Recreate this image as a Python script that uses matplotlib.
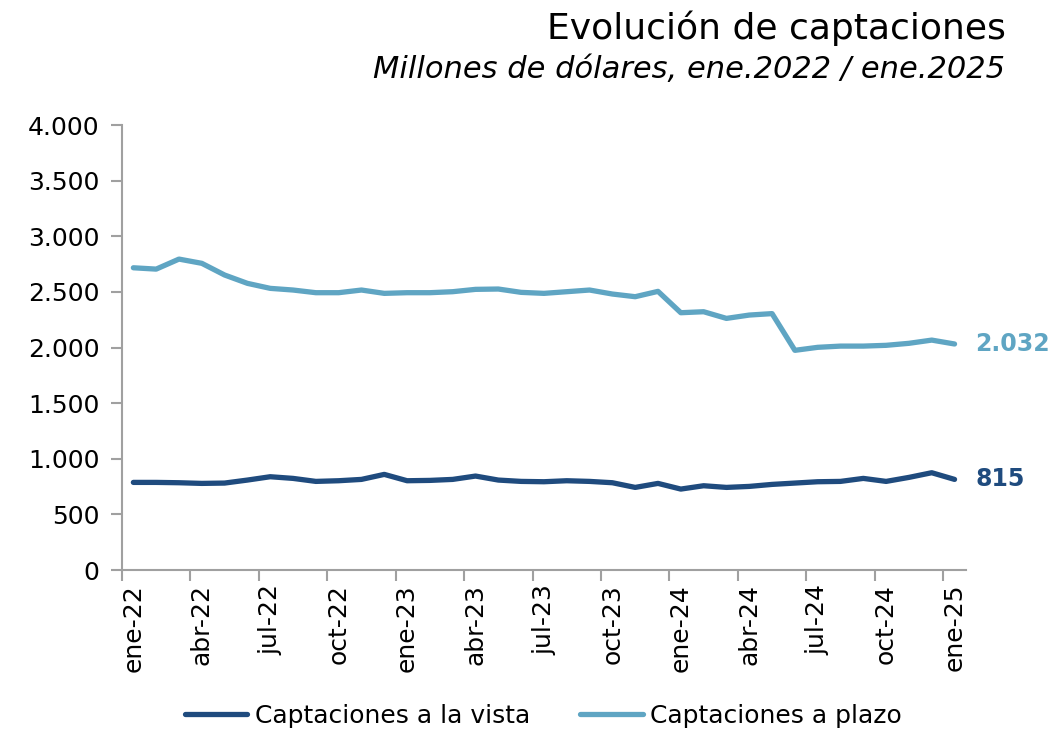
import numpy as np
import matplotlib.pyplot as plt
from matplotlib.ticker import FuncFormatter

# --- Datos (millones de dólares, mensual ene.2022 - ene.2025) ---
meses = ['ene-22', 'feb-22', 'mar-22', 'abr-22', 'may-22', 'jun-22', 'jul-22', 'ago-22', 'sep-22',
         'oct-22', 'nov-22', 'dic-22', 'ene-23', 'feb-23', 'mar-23', 'abr-23', 'may-23', 'jun-23',
         'jul-23', 'ago-23', 'sep-23', 'oct-23', 'nov-23', 'dic-23', 'ene-24', 'feb-24', 'mar-24',
         'abr-24', 'may-24', 'jun-24', 'jul-24', 'ago-24', 'sep-24', 'oct-24', 'nov-24', 'dic-24',
         'ene-25']
vista = [788, 788, 785, 779, 782, 809, 839, 824, 797, 803, 815, 860, 803, 806, 815, 845, 809, 797,
         794, 803, 797, 785, 743, 779, 728, 758, 743, 752, 770, 782, 794, 797, 824, 797, 833, 875,
         815]
plazo = [2717, 2705, 2795, 2757, 2652, 2577, 2532, 2517, 2493, 2493, 2517, 2487, 2493, 2493, 2502,
         2523, 2526, 2496, 2487, 2502, 2517, 2481, 2457, 2505, 2313, 2322, 2262, 2292, 2305, 1975,
         2002, 2013, 2013, 2020, 2038, 2067, 2032]

c_vista = '#1f4b7e'
c_plazo = '#5fa5c3'
gris = '#a0a0a0'

x = np.arange(len(meses))

fig = plt.figure(figsize=(10.55, 7.29), dpi=100)
ax = fig.add_axes([0.1156, 0.218, 0.8, 0.6105])

ax.plot(x, vista, color=c_vista, linewidth=3.8, solid_capstyle='round', solid_joinstyle='round',
        label='Captaciones a la vista')
ax.plot(x, plazo, color=c_plazo, linewidth=3.8, solid_capstyle='round', solid_joinstyle='round',
        label='Captaciones a plazo')

# Etiquetas del último dato
fmt = lambda v, p=None: f'{int(v):,}'.replace(',', '.')
ax.annotate(fmt(plazo[-1]), (x[-1], plazo[-1]), xytext=(15, 0), textcoords='offset points',
            va='center', ha='left', fontsize=17, fontweight='bold', color=c_plazo,
            annotation_clip=False)
ax.annotate(fmt(vista[-1]), (x[-1], vista[-1]), xytext=(15, 0), textcoords='offset points',
            va='center', ha='left', fontsize=17, fontweight='bold', color=c_vista,
            annotation_clip=False)

# Ejes
ax.set_ylim(0, 4000)
ax.set_yticks(np.arange(0, 4001, 500))
ax.yaxis.set_major_formatter(FuncFormatter(fmt))
ax.set_xlim(-0.5, len(meses) - 0.5)
ax.set_xticks(np.arange(-0.5, len(meses), 3))
ax.set_xticklabels([])
ax.set_xticks(x[::3], minor=True)
ax.set_xticklabels(meses[::3], minor=True, rotation=90)
ax.tick_params(axis='x', which='minor', length=0, pad=10, labelsize=18)
ax.tick_params(axis='x', which='major', length=8, width=1.5, color=gris)
ax.tick_params(axis='y', length=8, width=1.5, color=gris, labelsize=18, pad=8)

for s in ['top', 'right']:
    ax.spines[s].set_visible(False)
for s in ['left', 'bottom']:
    ax.spines[s].set_color(gris)
    ax.spines[s].set_linewidth(1.5)

# Títulos
fig.text(0.953, 0.961, 'Evolución de captaciones', ha='right', va='center', fontsize=26)
fig.text(0.953, 0.905, 'Millones de dólares, ene.2022 / ene.2025', ha='right', va='center',
         fontsize=22, style='italic')

fig.legend(loc='center', bbox_to_anchor=(0.515, 0.018), ncol=2, frameon=False, fontsize=18,
           handlelength=2.5, columnspacing=2, handletextpad=0.3)

fig.savefig('out.png', dpi=100)
